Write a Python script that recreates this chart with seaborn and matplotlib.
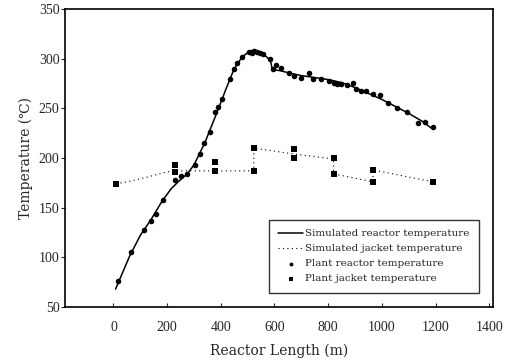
import pandas as pd
import numpy as np
import matplotlib
matplotlib.use('Agg')
import matplotlib.pyplot as plt
import seaborn as sns

# simulated reactor temperature (line)
sim_reactor_x = [8, 60, 100, 140, 180, 215, 245, 275, 300, 340, 380, 420, 450, 480, 505, 523,
                 545, 570, 585, 592, 620, 650, 700, 750, 800, 850, 900, 950, 1000, 1050, 1100, 1150, 1185]
sim_reactor_t = [68, 101, 122, 138, 156, 169, 177, 184, 193, 215, 242, 270, 290, 302, 307, 309,
                 307, 302, 298, 289, 288, 286, 283, 281, 279, 276, 271, 265, 259, 252, 245, 237, 230]

# simulated jacket temperature (dotted line)
sim_jacket_x = [10, 50, 100, 150, 200, 231, 377, 523, 523, 672, 820, 820, 967, 967, 1189]
sim_jacket_t = [174, 176, 179, 182.5, 186, 187, 187, 187, 210, 204, 199, 184, 176, 188, 176]

# plant reactor temperature (points)
plant_reactor_x = [18, 67, 112, 139, 158, 185, 231, 250, 275, 302, 321, 339, 358, 378, 388, 405,
                   433, 449, 461, 480, 505, 515, 522, 535, 545, 558, 582, 594, 607, 625, 655, 672,
                   697, 727, 742, 772, 803, 822, 834, 847, 871, 893, 903, 921, 940, 967, 993, 1022,
                   1058, 1095, 1133, 1160, 1189]
plant_reactor_t = [76, 105, 127, 137, 144, 158, 178, 182, 184, 193, 204, 215, 226, 246, 251, 259,
                   280, 290, 296, 302, 307, 306, 308, 307, 306, 305, 300, 290, 294, 291, 286, 283,
                   281, 286, 280, 280, 278, 276, 275, 275, 274, 276, 270, 267, 267, 264, 263, 255,
                   250, 246, 235, 236, 231]

# plant jacket temperature (points)
plant_jacket_x = [10, 231, 231, 377, 377, 523, 523, 672, 672, 820, 820, 967, 967, 1189]
plant_jacket_t = [174, 193, 186, 196, 187, 187, 210, 209, 200, 200, 184, 188, 176, 176]

sns.set_style('ticks')
plt.rcParams['font.family'] = ['Liberation Serif', 'DejaVu Serif', 'DejaVu Sans']

fig = plt.figure(figsize=(5.09, 3.64), dpi=100)
ax = fig.add_axes([0.128, 0.157, 0.841, 0.818])

sns.lineplot(x=sim_reactor_x, y=sim_reactor_t, ax=ax, color='black', lw=1.1,
             sort=False, estimator=None, label='Simulated reactor temperature')
sns.lineplot(x=sim_jacket_x, y=sim_jacket_t, ax=ax, color='black', lw=0.8,
             linestyle=(0, (1, 3)), sort=False, estimator=None,
             label='Simulated jacket temperature')
sns.scatterplot(x=plant_reactor_x, y=plant_reactor_t, ax=ax, color='black', marker='o',
                s=16, linewidth=0, label='Plant reactor temperature')
sns.scatterplot(x=plant_jacket_x, y=plant_jacket_t, ax=ax, color='black', marker='s',
                s=16, linewidth=0, label='Plant jacket temperature')

ax.set_xlim(-180, 1415)
ax.set_ylim(50, 350)
ax.set_xticks(range(0, 1401, 200))
ax.set_yticks(range(50, 351, 50))
ax.tick_params(axis='x', direction='in', length=3, labelsize=10, pad=10)
ax.tick_params(axis='y', direction='out', length=3, labelsize=10, pad=1)
for s in ax.spines.values():
    s.set_visible(True)
    s.set_linewidth(1.2)
    s.set_color('black')

ax.set_xlabel('Reactor Length (m)', fontsize=10, labelpad=7,
              family=['DejaVu Serif', 'DejaVu Sans'])
ax.set_ylabel('Temperature (℃)', fontsize=10, labelpad=4,
              family=['DejaVu Serif', 'DejaVu Sans'])

leg = ax.legend(loc='lower right', bbox_to_anchor=(0.967, 0.047), borderaxespad=0,
                prop={'family': 'DejaVu Serif', 'size': 7.5}, frameon=True, fancybox=False,
                handlelength=2.4, handletextpad=0.2, borderpad=0.9, labelspacing=0.55,
                markerscale=0.7)
leg.get_frame().set_edgecolor('black')
leg.get_frame().set_linewidth(1.0)

plt.savefig('out.png', dpi=100)
